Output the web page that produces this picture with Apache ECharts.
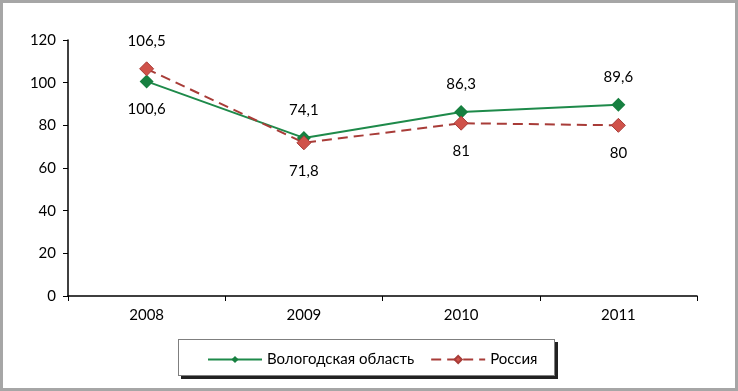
<!DOCTYPE html>
<html>
<head>
<meta charset="utf-8">
<script src="https://cdn.jsdelivr.net/npm/echarts@6/dist/echarts.min.js"></script>
<style>
  html, body { margin: 0; padding: 0; background: #fff; }
  #frame { position: absolute; left: 0; top: 0; width: 732px; height: 385px; border: 3px solid #a6a6a6; }
  #chart { position: absolute; left: 0; top: 0; width: 738px; height: 391px; }
  #legendBox { position: absolute; left: 178px; top: 339px; width: 375px; height: 35px; border: 1px solid #7f7f7f; box-shadow: 3px 3px 0 #222; background: #fff; }
</style>
</head>
<body>
<div id="frame"></div>
<div id="legendBox"></div>
<div id="chart"></div>
<script>
const years = ['2008', '2009', '2010', '2011'];
const vologda = [100.6, 74.1, 86.3, 89.6];
const russia = [106.5, 71.8, 81, 80];
const vologdaPos = ['bottom', 'top', 'top', 'top'];
const russiaPos = ['top', 'bottom', 'bottom', 'bottom'];

const font = 'Lato, "Open Sans", sans-serif';
const fmt = p => String(p.value).replace('.', ',');

function withLabels(vals, pos) {
    return vals.map((v, i) => ({ value: v, label: { position: pos[i] } }));
}

const chart = echarts.init(document.getElementById('chart'));
chart.setOption({
    animation: false,
    grid: { left: 68, right: 41, top: 40, bottom: 95 },
    xAxis: {
        type: 'category',
        data: years,
        boundaryGap: true,
        axisLine: { lineStyle: { color: '#000', width: 1.5 } },
        axisTick: { show: true, length: 5, lineStyle: { color: '#000' } },
        axisLabel: { color: '#000', fontSize: 15, fontFamily: font, margin: 12 }
    },
    yAxis: {
        type: 'value',
        min: 0, max: 120, interval: 20,
        splitLine: { show: false },
        axisLine: { show: true, lineStyle: { color: '#000', width: 1.5 } },
        axisTick: { show: true, length: 5, lineStyle: { color: '#000' } },
        axisLabel: { color: '#000', fontSize: 15, fontFamily: font, margin: 12 }
    },
    legend: {
        left: 202, top: 347,
        itemWidth: 54, itemHeight: 9, itemGap: 16,
        textStyle: { color: '#000', fontSize: 15, fontFamily: font },
        data: ['Вологодская область', 'Россия']
    },
    series: [
        {
            name: 'Вологодская область',
            type: 'line',
            data: withLabels(vologda, vologdaPos),
            symbol: 'diamond', symbolSize: 14,
            lineStyle: { color: '#1e8a4a', width: 2 },
            itemStyle: { color: '#178040' },
            label: { show: true, distance: 13, color: '#000', fontSize: 15, fontFamily: font, formatter: fmt }
        },
        {
            name: 'Россия',
            type: 'line',
            data: withLabels(russia, russiaPos),
            symbol: 'diamond', symbolSize: 14,
            lineStyle: { color: '#a83c38', width: 2, type: [10, 6] },
            itemStyle: { color: '#d0524a', borderColor: '#a83c38', borderWidth: 1 },
            label: { show: true, distance: 13, color: '#000', fontSize: 15, fontFamily: font, formatter: fmt }
        }
    ]
});
</script>
</body>
</html>
